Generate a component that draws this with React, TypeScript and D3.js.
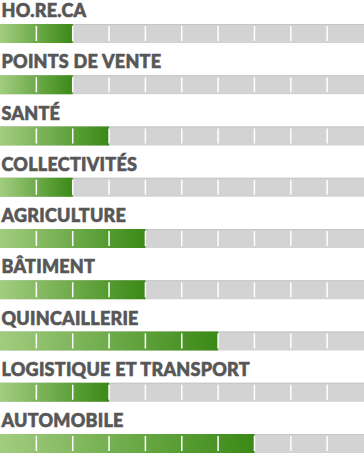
import React from "react";
import * as d3 from "d3";

const categories = [
  "HO.RE.CA",
  "POINTS DE VENTE",
  "SANTÉ",
  "COLLECTIVITÉS",
  "AGRICULTURE",
  "BÂTIMENT",
  "QUINCAILLERIE",
  "LOGISTIQUE ET TRANSPORT",
  "AUTOMOBILE",
];
const values = [2, 2, 3, 2, 4, 4, 6, 3, 7];
const maxValue = 10;

const W = 364;
const H = 453;

export default function App() {
  const x = d3.scaleLinear().domain([0, maxValue]).range([0, 363.5]);
  const y = d3.scaleLinear().domain([0, categories.length - 1]).range([0, 410]);
  const ticks = d3.range(1, maxValue);
  const barH = 19;
  return (
    <svg width={W} height={H} style={{ position: "absolute", left: 0, top: 0 }}>
      <defs>
        <linearGradient id="g" x1="0" x2="1" y1="0" y2="0">
          <stop offset="0%" stopColor="#a2cd7f" />
          <stop offset="100%" stopColor="#3a8916" />
        </linearGradient>
      </defs>
      {categories.map((c, i) => {
        const top = y(i);
        const by = top + 24;
        return (
          <g key={c}>
            <text
              x={1.5}
              y={top + 17}
              fontFamily="Lato"
              fontWeight={900}
              fontSize={18}
              fill="#575757"
              stroke="#575757"
              strokeWidth={0.6}
              letterSpacing={0.25}
            >
              {c}
            </text>
            <rect x={0} y={by} width={W} height={barH} fill="#d3d3d3" />
            <rect x={0} y={by} width={W} height={1} fill="#c6c6c6" />
            <rect x={0} y={by} width={x(values[i])} height={barH} fill="url(#g)" />
            {ticks.map((t) => (
              <rect
                key={t}
                x={x(t) - 0.75}
                y={by + 2}
                width={1.5}
                height={barH - 4}
                fill="#ffffff"
              />
            ))}
          </g>
        );
      })}
    </svg>
  );
}
